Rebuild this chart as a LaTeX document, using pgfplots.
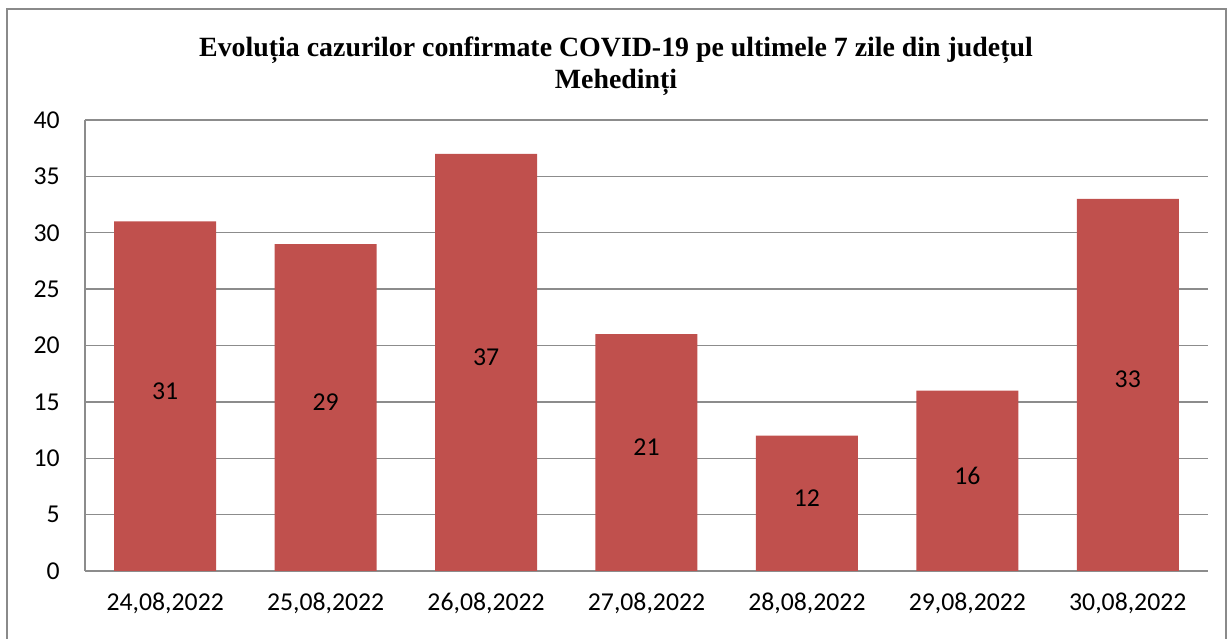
\documentclass[border=0pt]{standalone}
\usepackage{pgfplots}
\pgfplotsset{compat=1.18}
\usepackage{fontspec}
\setmainfont{Carlito}
\newfontfamily\titlefont{Liberation Serif}
\definecolor{barred}{HTML}{C0504D}
\definecolor{gridgray}{HTML}{8C8C8C}
\definecolor{framegray}{HTML}{8A8A8A}
\begin{document}
\begin{tikzpicture}
\useasboundingbox (0pt,0pt) rectangle (921.75pt,479.25pt);
\draw[framegray, line width=1.2pt] (5.25pt,-15pt) rectangle (919.5pt,472.5pt);
\begin{axis}[
  at={(63.75pt,51pt)}, anchor=origin,
  scale only axis,
  width=842.25pt, height=338.25pt,
  xmin=0, xmax=7, ymin=0, ymax=40,
  ytick={0,5,...,40},
  xtick={0.5,1.5,...,6.5},
  xticklabels={{24,08,2022},{25,08,2022},{26,08,2022},{27,08,2022},{28,08,2022},{29,08,2022},{30,08,2022}},
  axis x line*=bottom, axis y line*=left,
  axis line style={gridgray, line width=1.2pt, -},
  major tick length=0pt,
  ymajorgrids,
  grid style={gridgray, line width=1pt},
  tick label style={font=\fontsize{19.3}{21}\selectfont, text=black},
  xticklabel style={yshift=-13pt},
  yticklabel style={xshift=-15.5pt},
  /pgf/number format/assume math mode=true,
  clip=false,
]
\addplot[ybar, bar width=76.5pt, fill=barred, draw=none] table[x=x, y=y] {
x y
0.5 31
1.5 29
2.5 37
3.5 21
4.5 12
5.5 16
6.5 33
};
\addplot[draw=none, mark=none,
  nodes near coords,
  point meta=explicit symbolic,
  every node near coord/.append style={anchor=center, yshift=4pt, font=\fontsize{19.3}{21}\selectfont, text=black},
] table[x=x, y expr=\thisrow{y}/2, meta=lab] {
x y lab
0.5 31 31
1.5 29 29
2.5 37 37
3.5 21 21
4.5 12 12
5.5 16 16
6.5 33 33
};
\end{axis}
\node[font=\titlefont\bfseries\fontsize{20.9}{24}\selectfont, align=center] at (462pt,429.75pt) {Evoluția cazurilor confirmate COVID-19 pe ultimele 7 zile din județul\\Mehedinți};
\end{tikzpicture}
\end{document}
